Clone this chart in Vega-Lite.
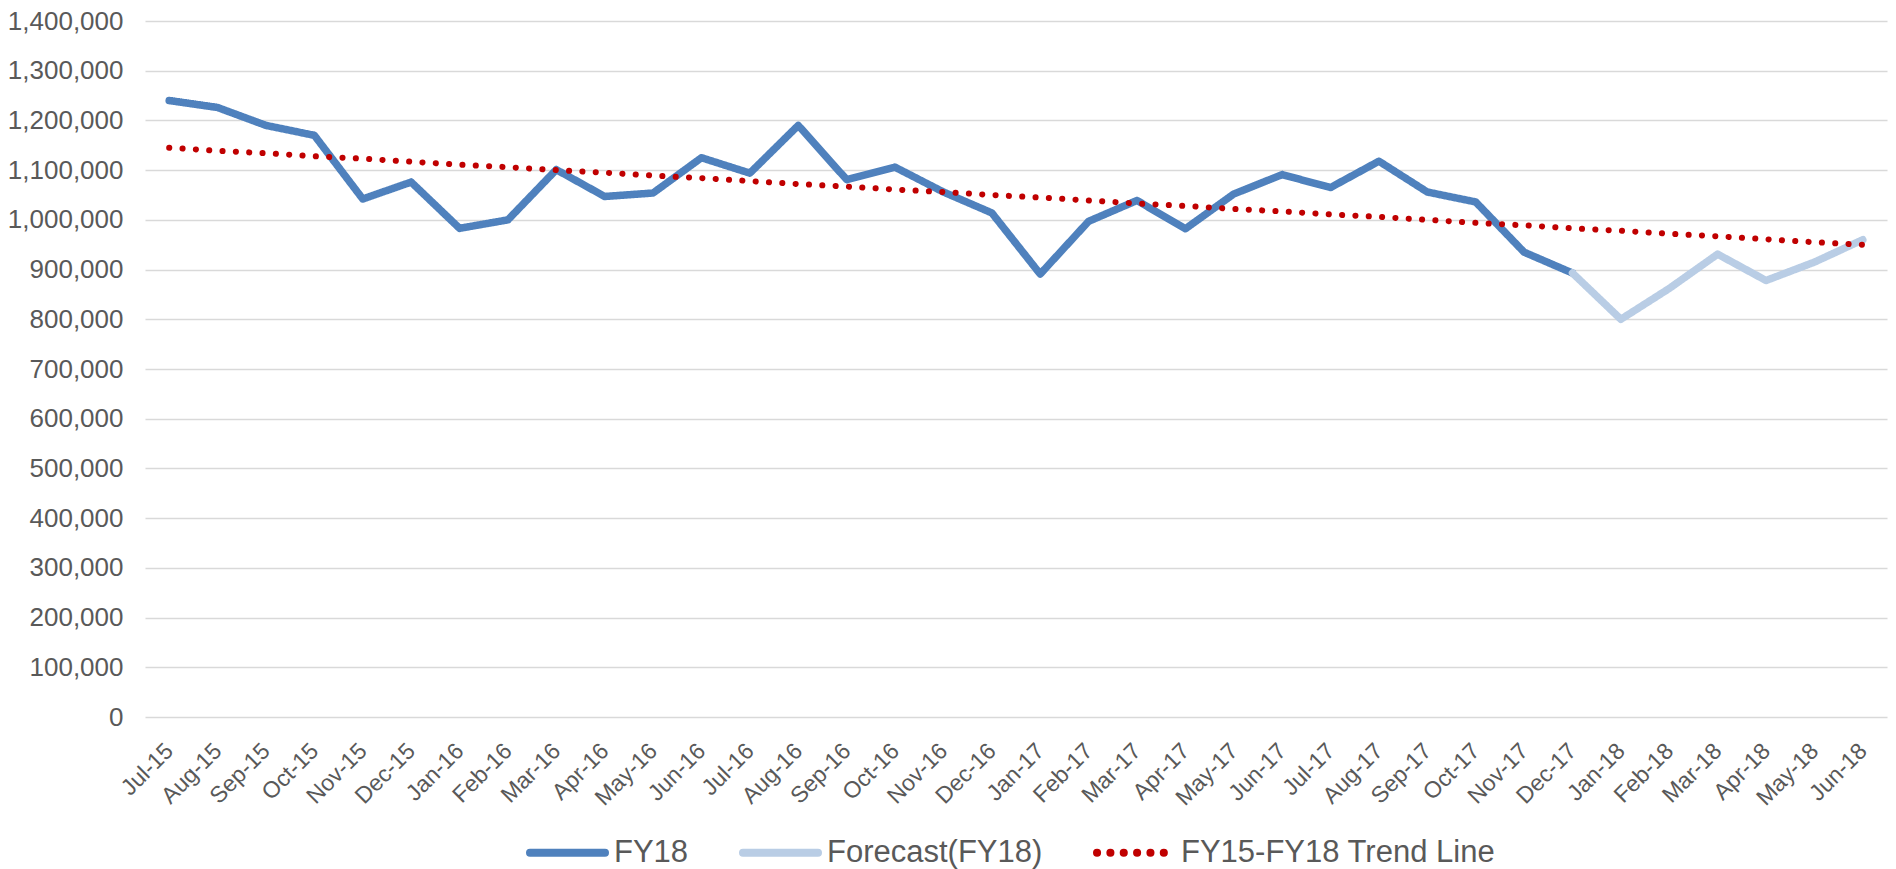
{
  "$schema": "https://vega.github.io/schema/vega-lite/v6.json",
  "width": 1742,
  "height": 696,
  "autosize": {"type": "none"},
  "padding": {"left": 145, "top": 21, "right": 9, "bottom": 152},
  "background": "white",
  "config": {
    "font": "Liberation Sans",
    "view": {"stroke": null}
  },
  "data": {
    "values": [
      {"month": "Jul-15", "series": "FY18", "value": 1240000},
      {"month": "Aug-15", "series": "FY18", "value": 1226000},
      {"month": "Sep-15", "series": "FY18", "value": 1190000},
      {"month": "Oct-15", "series": "FY18", "value": 1170000},
      {"month": "Nov-15", "series": "FY18", "value": 1042000},
      {"month": "Dec-15", "series": "FY18", "value": 1076000},
      {"month": "Jan-16", "series": "FY18", "value": 983000},
      {"month": "Feb-16", "series": "FY18", "value": 1000000},
      {"month": "Mar-16", "series": "FY18", "value": 1101000},
      {"month": "Apr-16", "series": "FY18", "value": 1047000},
      {"month": "May-16", "series": "FY18", "value": 1054000},
      {"month": "Jun-16", "series": "FY18", "value": 1125000},
      {"month": "Jul-16", "series": "FY18", "value": 1094000},
      {"month": "Aug-16", "series": "FY18", "value": 1190000},
      {"month": "Sep-16", "series": "FY18", "value": 1081000},
      {"month": "Oct-16", "series": "FY18", "value": 1106000},
      {"month": "Nov-16", "series": "FY18", "value": 1056000},
      {"month": "Dec-16", "series": "FY18", "value": 1014000},
      {"month": "Jan-17", "series": "FY18", "value": 891000},
      {"month": "Feb-17", "series": "FY18", "value": 997000},
      {"month": "Mar-17", "series": "FY18", "value": 1039000},
      {"month": "Apr-17", "series": "FY18", "value": 982000},
      {"month": "May-17", "series": "FY18", "value": 1052000},
      {"month": "Jun-17", "series": "FY18", "value": 1091000},
      {"month": "Jul-17", "series": "FY18", "value": 1065000},
      {"month": "Aug-17", "series": "FY18", "value": 1118000},
      {"month": "Sep-17", "series": "FY18", "value": 1056000},
      {"month": "Oct-17", "series": "FY18", "value": 1036000},
      {"month": "Nov-17", "series": "FY18", "value": 935000},
      {"month": "Dec-17", "series": "FY18", "value": 893000},
      {"month": "Dec-17", "series": "Forecast(FY18)", "value": 893000},
      {"month": "Jan-18", "series": "Forecast(FY18)", "value": 800000},
      {"month": "Feb-18", "series": "Forecast(FY18)", "value": 862000},
      {"month": "Mar-18", "series": "Forecast(FY18)", "value": 931000},
      {"month": "Apr-18", "series": "Forecast(FY18)", "value": 878000},
      {"month": "May-18", "series": "Forecast(FY18)", "value": 915000},
      {"month": "Jun-18", "series": "Forecast(FY18)", "value": 960000},
      {"month": "Jul-15", "series": "FY15-FY18 Trend Line", "value": 1145000},
      {"month": "Aug-15", "series": "FY15-FY18 Trend Line", "value": 1139000},
      {"month": "Sep-15", "series": "FY15-FY18 Trend Line", "value": 1134000},
      {"month": "Oct-15", "series": "FY15-FY18 Trend Line", "value": 1128000},
      {"month": "Nov-15", "series": "FY15-FY18 Trend Line", "value": 1123000},
      {"month": "Dec-15", "series": "FY15-FY18 Trend Line", "value": 1117000},
      {"month": "Jan-16", "series": "FY15-FY18 Trend Line", "value": 1111000},
      {"month": "Feb-16", "series": "FY15-FY18 Trend Line", "value": 1106000},
      {"month": "Mar-16", "series": "FY15-FY18 Trend Line", "value": 1100000},
      {"month": "Apr-16", "series": "FY15-FY18 Trend Line", "value": 1095000},
      {"month": "May-16", "series": "FY15-FY18 Trend Line", "value": 1089000},
      {"month": "Jun-16", "series": "FY15-FY18 Trend Line", "value": 1084000},
      {"month": "Jul-16", "series": "FY15-FY18 Trend Line", "value": 1078000},
      {"month": "Aug-16", "series": "FY15-FY18 Trend Line", "value": 1072000},
      {"month": "Sep-16", "series": "FY15-FY18 Trend Line", "value": 1067000},
      {"month": "Oct-16", "series": "FY15-FY18 Trend Line", "value": 1061000},
      {"month": "Nov-16", "series": "FY15-FY18 Trend Line", "value": 1056000},
      {"month": "Dec-16", "series": "FY15-FY18 Trend Line", "value": 1050000},
      {"month": "Jan-17", "series": "FY15-FY18 Trend Line", "value": 1045000},
      {"month": "Feb-17", "series": "FY15-FY18 Trend Line", "value": 1039000},
      {"month": "Mar-17", "series": "FY15-FY18 Trend Line", "value": 1033000},
      {"month": "Apr-17", "series": "FY15-FY18 Trend Line", "value": 1028000},
      {"month": "May-17", "series": "FY15-FY18 Trend Line", "value": 1022000},
      {"month": "Jun-17", "series": "FY15-FY18 Trend Line", "value": 1017000},
      {"month": "Jul-17", "series": "FY15-FY18 Trend Line", "value": 1011000},
      {"month": "Aug-17", "series": "FY15-FY18 Trend Line", "value": 1006000},
      {"month": "Sep-17", "series": "FY15-FY18 Trend Line", "value": 1000000},
      {"month": "Oct-17", "series": "FY15-FY18 Trend Line", "value": 994000},
      {"month": "Nov-17", "series": "FY15-FY18 Trend Line", "value": 989000},
      {"month": "Dec-17", "series": "FY15-FY18 Trend Line", "value": 983000},
      {"month": "Jan-18", "series": "FY15-FY18 Trend Line", "value": 978000},
      {"month": "Feb-18", "series": "FY15-FY18 Trend Line", "value": 972000},
      {"month": "Mar-18", "series": "FY15-FY18 Trend Line", "value": 967000},
      {"month": "Apr-18", "series": "FY15-FY18 Trend Line", "value": 961000},
      {"month": "May-18", "series": "FY15-FY18 Trend Line", "value": 955000},
      {"month": "Jun-18", "series": "FY15-FY18 Trend Line", "value": 950000}
    ]
  },
  "encoding": {
    "x": {
      "field": "month",
      "type": "ordinal",
      "scale": {
        "type": "point",
        "padding": 0.5,
        "domain": ["Jul-15","Aug-15","Sep-15","Oct-15","Nov-15","Dec-15","Jan-16","Feb-16","Mar-16","Apr-16","May-16","Jun-16","Jul-16","Aug-16","Sep-16","Oct-16","Nov-16","Dec-16","Jan-17","Feb-17","Mar-17","Apr-17","May-17","Jun-17","Jul-17","Aug-17","Sep-17","Oct-17","Nov-17","Dec-17","Jan-18","Feb-18","Mar-18","Apr-18","May-18","Jun-18"]
      },
      "axis": {
        "title": null,
        "labelAngle": -45,
        "labelAlign": "right",
        "labelBaseline": "middle",
        "labelPadding": 30,
        "labelFontSize": 23,
        "labelColor": "#595959",
        "ticks": false,
        "domain": false,
        "grid": false
      }
    },
    "y": {
      "field": "value",
      "type": "quantitative",
      "scale": {"domain": [0, 1400000], "nice": false},
      "axis": {
        "title": null,
        "format": ",.0f",
        "values": [0,100000,200000,300000,400000,500000,600000,700000,800000,900000,1000000,1100000,1200000,1300000,1400000],
        "ticks": false,
        "domain": false,
        "labelPadding": 22,
        "labelFontSize": 26,
        "labelColor": "#595959",
        "gridColor": "#D9D9D9",
        "gridWidth": 1.5
      }
    },
    "color": {
      "field": "series",
      "type": "nominal",
      "scale": {
        "domain": ["FY18", "Forecast(FY18)", "FY15-FY18 Trend Line"],
        "range": ["#4F81BD", "#B9CDE5", "#C00000"]
      },
      "legend": {
        "title": null,
        "orient": "none",
        "legendX": 381,
        "legendY": 790,
        "direction": "horizontal",
        "symbolType": "stroke",
        "symbolSize": 5625,
        "symbolStrokeWidth": 8,
        "labelFontSize": 31,
        "labelColor": "#595959",
        "labelOffset": 5,
        "columnPadding": 38,
        "labelLimit": 500,
        "encoding": {
          "symbols": {"strokeCap": {"value": "round"}}
        }
      }
    },
    "strokeDash": {
      "field": "series",
      "type": "nominal",
      "scale": {
        "domain": ["FY18", "Forecast(FY18)", "FY15-FY18 Trend Line"],
        "range": [[1, 0], [1, 0], [0.1, 13.25]]
      }
    }
  },
  "layer": [
    {
      "transform": [{"filter": "datum.series !== 'FY15-FY18 Trend Line'"}],
      "mark": {"type": "line", "strokeWidth": 7.5, "strokeCap": "round", "strokeJoin": "round"}
    },
    {
      "transform": [{"filter": "datum.series === 'FY15-FY18 Trend Line'"}],
      "mark": {"type": "line", "strokeWidth": 6, "strokeCap": "round"}
    }
  ]
}
